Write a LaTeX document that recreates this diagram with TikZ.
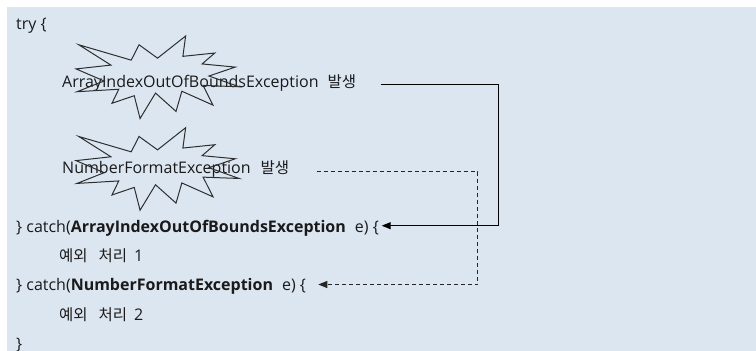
\documentclass[tikz,border=0pt]{standalone}
\usepackage{fontspec}
\setmainfont{Open Sans}
\newfontfamily\kr{Noto Sans CJK KR}
\usetikzlibrary{arrows.meta}
\definecolor{bgblue}{HTML}{DCE6F1}
\definecolor{txt}{HTML}{1A1A1A}
\definecolor{burstc}{HTML}{2E2E2E}
\newcommand\burstpath{(108,58) -- (145.22,0) -- (141.55,53.25) -- (183.8,44.57) -- (167.02,73.15) -- (210.97,81.37) -- (176.07,104.75) -- (216,132.9) -- (168.37,129.42) -- (181.45,180.95) -- (140.2,144.57) -- (132.47,197.37) -- (105.32,149.35) -- (84.85,216) -- (77.15,156.27) -- (47.62,176.17) -- (56.67,139.37) -- (1.35,145.87) -- (37.22,117.75) -- (0,86.15) -- (46.27,76.17) -- (3.7,22.95) -- (73.12,63.2) -- (83.52,22.95) -- cycle}
\tikzset{
  code/.style={anchor=base west, inner sep=0pt, text=txt, font=\fontsize{16}{19}\selectfont},
  krf/.style={},
  burstline/.style={draw=burstc, line width=1pt, line join=miter},
  conn/.style={draw=black, line width=1pt, -{Triangle[length=9pt,width=7pt]}},
  dconn/.style={draw=black!85, line width=1pt, dash pattern=on 4pt off 3pt, -{Triangle[length=9pt,width=7pt]}},
}
\newcommand\ko[1]{{\kr\fontsize{15.5}{19}\selectfont #1}}
\begin{document}
\begin{tikzpicture}[x=1pt,y=-1pt]
\useasboundingbox (0,0) rectangle (756,351);
\fill[white] (0,0) rectangle (756,351);
\fill[bgblue] (7,7) rectangle (756,351);

\node[code] (try) at (16,29.5) {try \{};
\node[code] (ex1) at (62,87.5) {ArrayIndexOutOfBoundsException\hspace{9pt}\ko{발생}};
\node[code] (ex2) at (62,173.3) {NumberFormatException\hspace{10pt}\ko{발생}};
\node[code] (c1) at (16,232.3) {\} catch(\textbf{ArrayIndexOutOfBoundsException}\hspace{9pt}e) \{};
\node[code] (h1) at (59,261.7) {\ko{예외}\hspace{11pt}\ko{처리}\hspace{7pt}1};
\node[code] (c2) at (16,290) {\} catch(\textbf{NumberFormatException}\hspace{9pt}e) \{};
\node[code] (h2) at (59,320) {\ko{예외}\hspace{11pt}\ko{처리}\hspace{7pt}2};
\node[code] (close) at (16,349) {\}};

\draw[burstline, shift={(76,36)}, xscale=0.755, yscale=0.382] \burstpath;
\draw[burstline, shift={(76,127.7)}, xscale=0.755, yscale=0.382] \burstpath;

\coordinate (s1) at (380.7,84.3);
\coordinate (r1) at (498.3,150);
\coordinate (e1) at (381.7,225.7);
\draw[conn] (s1) -| (r1) |- (e1);

\coordinate (s2) at (316.7,171.5);
\coordinate (r2) at (477.7,230);
\coordinate (e2) at (318.3,284.5);
\draw[dconn] (s2) -| (r2) |- (e2);
\end{tikzpicture}
\end{document}
